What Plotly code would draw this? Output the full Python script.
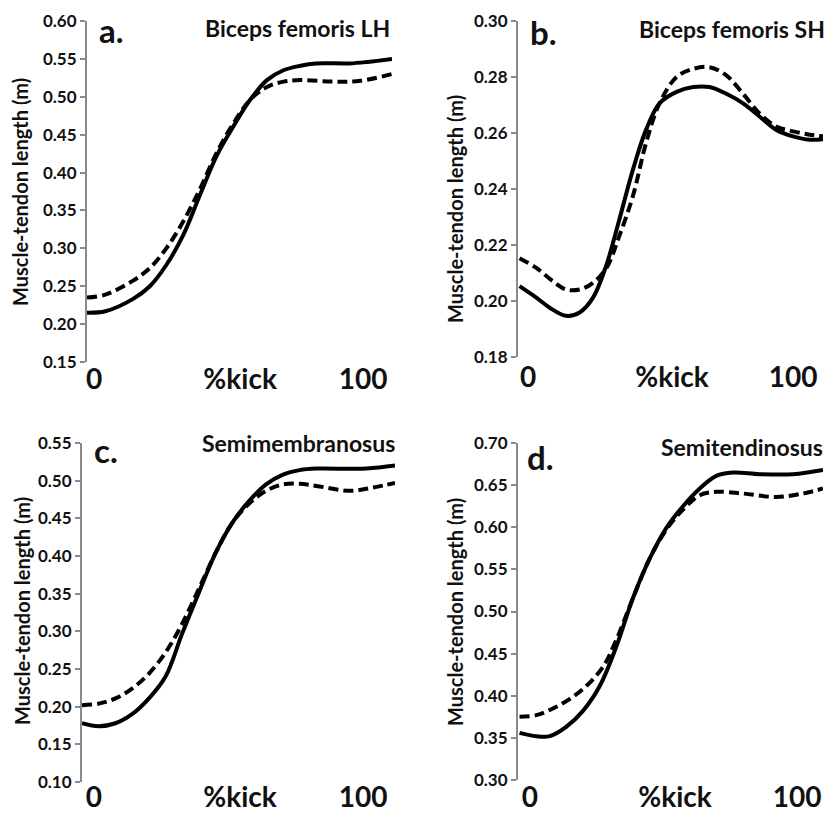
import plotly.graph_objects as go

# ---------------- data ----------------
# Panel a: Biceps femoris LH
a_x_solid = [0, 6, 15, 20.6, 26, 31.5, 37, 42.5, 48, 53.5, 59, 64.4, 70, 75, 86, 92, 100]
a_solid = [0.215, 0.217, 0.233, 0.250, 0.278, 0.317, 0.370, 0.422, 0.461, 0.496, 0.522, 0.535, 0.541, 0.544, 0.544, 0.546, 0.550]
a_x_dash = [0, 6, 15, 20.6, 26, 31.5, 37, 42.5, 48, 53.5, 59, 64.4, 70, 81, 89.6, 100]
a_dash = [0.235, 0.239, 0.257, 0.274, 0.300, 0.335, 0.378, 0.426, 0.465, 0.496, 0.513, 0.520, 0.522, 0.520, 0.521, 0.530]

# Panel b: Biceps femoris SH
b_x = [0.5, 6, 10.4, 15.8, 20.2, 24.6, 29, 33.3, 37.7, 42, 46.4, 52, 57.4, 62.8, 68.3, 73.8, 79.2, 84.7, 90.2, 95.6, 100]
b_solid = [0.2053, 0.2012, 0.1976, 0.1947, 0.1959, 0.2012, 0.2129, 0.2294, 0.2470, 0.2612, 0.2706, 0.2747, 0.2764, 0.2764, 0.2740, 0.2706, 0.2659, 0.2611, 0.2588, 0.2576, 0.2578]
b_x_dash = [0.5, 6, 11.5, 15.8, 20.2, 24.6, 29, 33.3, 37.7, 42, 46.4, 52, 57.4, 62.8, 68.3, 73.8, 79.2, 84.7, 90.2, 95.6, 100]
b_dash = [0.2153, 0.2118, 0.2070, 0.2041, 0.2041, 0.2065, 0.2118, 0.2235, 0.2376, 0.2565, 0.2706, 0.2800, 0.2829, 0.2835, 0.2806, 0.2740, 0.2670, 0.2623, 0.2606, 0.2594, 0.2588]

# Panel c: Semimembranosus
c_x = [0, 5.3, 10.7, 16, 21.4, 26.7, 32, 37.4, 42.8, 48, 53.5, 58.8, 64.2, 69.5, 74.9, 90.9, 100]
c_solid = [0.178, 0.174, 0.178, 0.190, 0.211, 0.240, 0.297, 0.352, 0.405, 0.444, 0.4735, 0.495, 0.508, 0.514, 0.516, 0.516, 0.520]
c_x_dash = [0, 5.3, 10.7, 16, 21.4, 26.7, 32, 37.4, 42.8, 48, 53.5, 58.8, 64.2, 69.5, 74.9, 85.6, 93.1, 100]
c_dash = [0.202, 0.204, 0.211, 0.224, 0.244, 0.272, 0.310, 0.357, 0.405, 0.444, 0.470, 0.4865, 0.495, 0.496, 0.493, 0.4865, 0.491, 0.497]

# Panel d: Semitendinosus
d_x = [0.5, 6, 10.4, 15.8, 21.3, 26.8, 32.2, 37.7, 43.2, 48.6, 54.1, 59.6, 65, 70.5, 79.2, 90.2, 100]
d_solid = [0.356, 0.352, 0.352, 0.363, 0.382, 0.4115, 0.458, 0.516, 0.563, 0.599, 0.625, 0.646, 0.661, 0.665, 0.663, 0.663, 0.668]
d_x_dash = [0.5, 6, 11.5, 16.9, 22.4, 27.9, 32.2, 37.7, 43.2, 48.6, 54.1, 59.6, 65, 73.8, 84.7, 93.4, 100]
d_dash = [0.375, 0.377, 0.385, 0.396, 0.4115, 0.4345, 0.466, 0.516, 0.563, 0.597, 0.621, 0.638, 0.642, 0.640, 0.636, 0.640, 0.646]

x_tick_text = ["0", "%kick", "100"]
panel_titles = ["Biceps femoris LH", "Biceps femoris SH", "Semimembranosus", "Semitendinosus"]
panel_letters = ["a.", "b.", "c.", "d."]
y_title = "Muscle-tendon length (m)"

# ---------------- layout helpers ----------------
W, H = 826, 814
FONT = "Lato, 'Open Sans', sans-serif"
AX_GRAY = "#8a8a8a"
TXT = "#111111"

def px_x(p):
    return p / W

def px_y(p):
    return 1 - p / H

panels = [
    # (x_solid, solid, x_dash, dash, xdom px, ydom px (top,bottom), yrange, dtick, xtickvals, x-label line px)
    (a_x_solid, a_solid, a_x_dash, a_dash, (87, 392), (21, 362), (0.15, 0.60), 0.05, [2.3, 50.2, 90.5], 360),
    (b_x, b_solid, b_x_dash, b_dash, (518, 823), (21, 357), (0.18, 0.30), 0.02, [3.3, 50.5, 90.2], 358),
    (c_x, c_solid, c_x_dash, c_dash, (82, 395), (443, 782), (0.10, 0.55), 0.05, [3.8, 50.5, 89.8], 778),
    (d_x, d_solid, d_x_dash, d_dash, (518, 823), (443, 780), (0.30, 0.70), 0.05, [3.9, 51.5, 91.5], 778),
]

fig = go.Figure()
layout = dict(
    width=W, height=H,
    margin=dict(l=0, r=0, t=0, b=0, pad=0, autoexpand=False),
    paper_bgcolor="white", plot_bgcolor="white",
    showlegend=False,
    font=dict(family=FONT, color=TXT),
)

for i, (xs, ys, xd, yd, xdom, ydom, yr, dt, xtv, xlab) in enumerate(panels):
    n = "" if i == 0 else str(i + 1)
    xa, ya = "x" + n, "y" + n
    fig.add_trace(go.Scatter(x=xs, y=ys, mode="lines", xaxis=xa, yaxis=ya, cliponaxis=False,
                             line=dict(color="black", width=4, shape="spline", smoothing=1.0)))
    fig.add_trace(go.Scatter(x=xd, y=yd, mode="lines", xaxis=xa, yaxis=ya, cliponaxis=False,
                             line=dict(color="black", width=4, shape="spline", smoothing=1.0,
                                       dash="10px,5px")))
    layout["xaxis" + n] = dict(
        domain=[px_x(xdom[0]), px_x(xdom[1])], range=[0, 100], anchor="free", position=px_y(xlab),
        showgrid=False, zeroline=False, showline=False, ticks="", automargin=False,
        tickvals=xtv, ticktext=x_tick_text,
        tickfont=dict(family=FONT, size=28, color=TXT, weight="bold"),
        fixedrange=True,
    )
    layout["yaxis" + n] = dict(
        domain=[px_y(ydom[1]), px_y(ydom[0])], range=list(yr), anchor=xa, automargin=False,
        showgrid=False, zeroline=False, showline=True, linecolor=AX_GRAY, linewidth=2,
        ticks="outside", ticklen=5, tickwidth=1.5, tickcolor=AX_GRAY,
        dtick=dt, tick0=0, tickformat=".2f",
        tickfont=dict(family=FONT, size=17, color=TXT, weight="bold"),
        fixedrange=True,
    )

annotations = []
# panel letters
letter_pos = [(97, 30), (528, 32), (92, 450), (525, 457)]
for (lx, ly), t in zip(letter_pos, panel_letters):
    annotations.append(dict(x=px_x(lx), y=px_y(ly), xref="paper", yref="paper", text="<b>%s</b>" % t,
                            showarrow=False, xanchor="left", yanchor="middle",
                            font=dict(family=FONT, size=33, color=TXT)))
# panel titles
title_pos = [(392, 28, "right"), (637, 29, "left"), (397, 443, "right"), (659, 447, "left")]
for (tx, ty, anc), t in zip(title_pos, panel_titles):
    annotations.append(dict(x=px_x(tx), y=px_y(ty), xref="paper", yref="paper", text="<b>%s</b>" % t,
                            showarrow=False, xanchor=anc, yanchor="middle",
                            font=dict(family=FONT, size=23, color=TXT)))
# y titles
ytitle_pos = [(20, 192), (455, 209), (22, 611), (455, 612)]
for (tx, ty) in ytitle_pos:
    annotations.append(dict(x=px_x(tx), y=px_y(ty), xref="paper", yref="paper", text="<b>%s</b>" % y_title,
                            showarrow=False, textangle=-90, xanchor="center", yanchor="middle",
                            font=dict(family=FONT, size=20, color=TXT)))
layout["annotations"] = annotations

fig.update_layout(**layout)
fig.write_html("out.html", config={"displayModeBar": False},
               post_script="document.body.style.margin='0';document.documentElement.style.overflow='hidden';")
